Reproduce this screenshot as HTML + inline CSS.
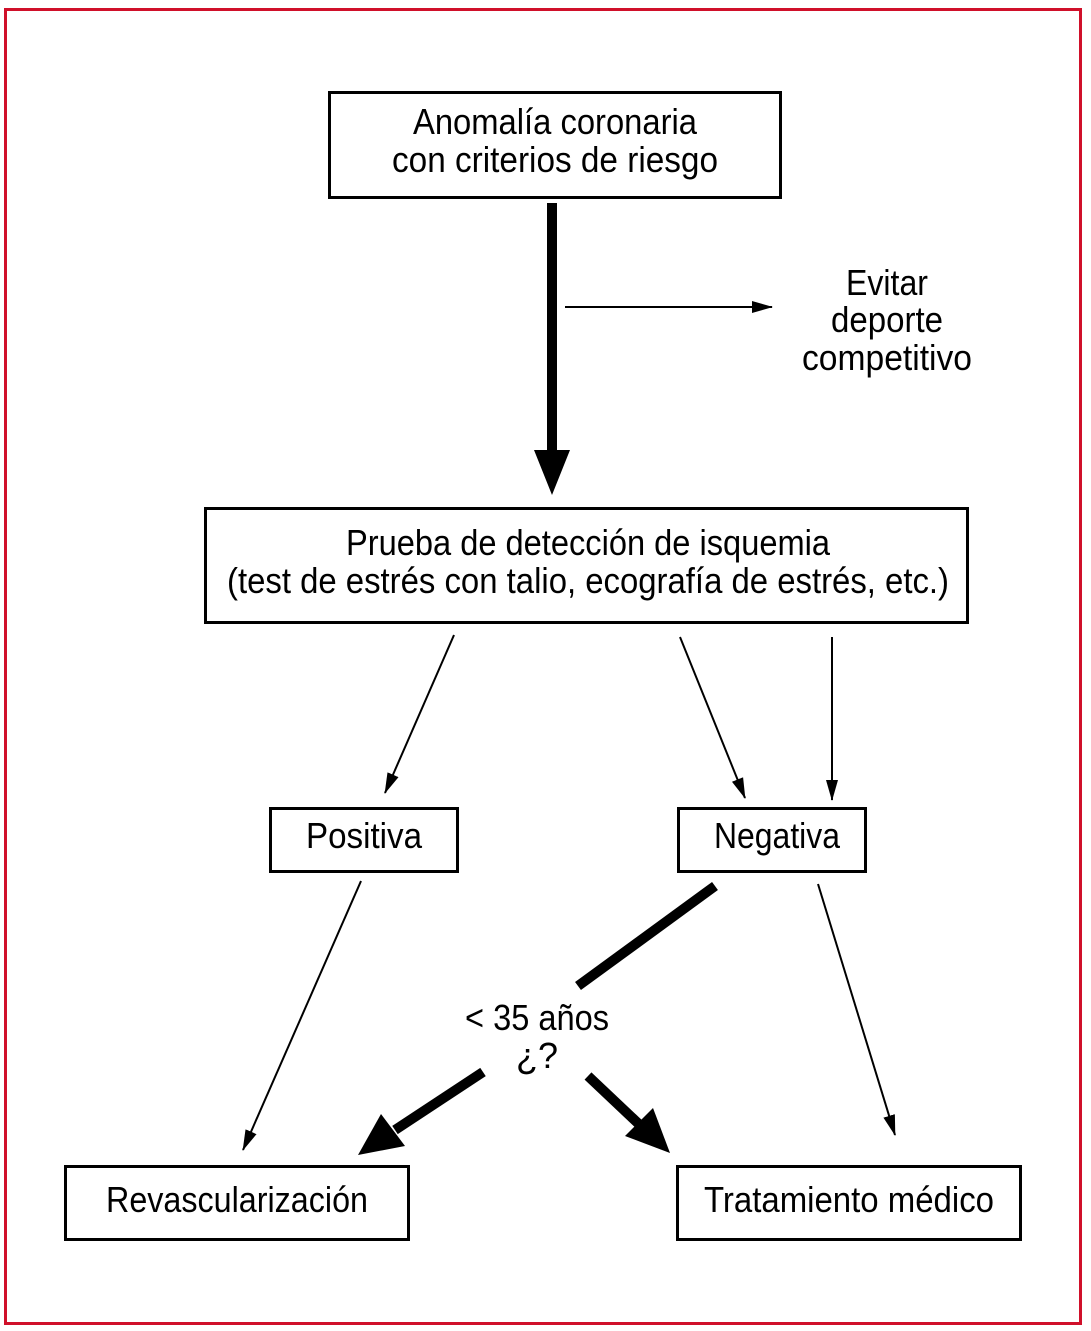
<!DOCTYPE html>
<html><head><meta charset="utf-8"><style>html,body{margin:0;padding:0;background:#fff}svg{display:block}</style></head>
<body>
<svg width="1091" height="1331" viewBox="0 0 1091 1331" xmlns="http://www.w3.org/2000/svg" font-family="'Liberation Sans Narrow','Liberation Sans',sans-serif" font-size="36" text-anchor="middle" fill="#000">
<defs>
<marker id="thin" markerWidth="22" markerHeight="14" refX="20" refY="7" orient="auto" markerUnits="userSpaceOnUse"><path d="M0,1 L21,7 L0,13 Z" fill="#000"/></marker>
</defs>
<rect x="5.5" y="9.5" width="1075" height="1314" fill="none" stroke="#d0102a" stroke-width="3"/>
<rect x="329.5" y="92.5" width="451" height="105" fill="none" stroke="#000" stroke-width="3"/>
<text x="555" y="134" textLength="284" lengthAdjust="spacingAndGlyphs">Anomalía coronaria</text>
<text x="555" y="172" textLength="326" lengthAdjust="spacingAndGlyphs">con criterios de riesgo</text>
<line x1="552" y1="203" x2="552" y2="455" stroke="#000" stroke-width="10"/>
<polygon points="534,450 570,450 552,495" fill="#000"/>
<line x1="565" y1="307" x2="772" y2="307" stroke="#000" stroke-width="2" marker-end="url(#thin)"/>
<text x="887" y="295" textLength="82" lengthAdjust="spacingAndGlyphs">Evitar</text>
<text x="887" y="332" textLength="112" lengthAdjust="spacingAndGlyphs">deporte</text>
<text x="887" y="370" textLength="170" lengthAdjust="spacingAndGlyphs">competitivo</text>
<rect x="205.5" y="508.5" width="762" height="114" fill="none" stroke="#000" stroke-width="3"/>
<text x="588" y="555" textLength="484" lengthAdjust="spacingAndGlyphs">Prueba de detección de isquemia</text>
<text x="588" y="593" textLength="722" lengthAdjust="spacingAndGlyphs">(test de estrés con talio, ecografía de estrés, etc.)</text>
<line x1="454" y1="635" x2="385" y2="793" stroke="#000" stroke-width="2" marker-end="url(#thin)"/>
<line x1="680" y1="637" x2="745" y2="798" stroke="#000" stroke-width="2" marker-end="url(#thin)"/>
<line x1="832" y1="637" x2="832" y2="800" stroke="#000" stroke-width="2" marker-end="url(#thin)"/>
<rect x="270.5" y="808.5" width="187" height="63" fill="none" stroke="#000" stroke-width="3"/>
<text x="364" y="848" textLength="116" lengthAdjust="spacingAndGlyphs">Positiva</text>
<rect x="678.5" y="808.5" width="187" height="63" fill="none" stroke="#000" stroke-width="3"/>
<text x="777" y="848" textLength="126" lengthAdjust="spacingAndGlyphs">Negativa</text>
<line x1="361" y1="881" x2="243" y2="1150" stroke="#000" stroke-width="2" marker-end="url(#thin)"/>
<line x1="818" y1="884" x2="895" y2="1135" stroke="#000" stroke-width="2" marker-end="url(#thin)"/>
<line x1="715" y1="886" x2="578" y2="986" stroke="#000" stroke-width="10"/>
<text x="537" y="1030" textLength="144" lengthAdjust="spacingAndGlyphs">&lt; 35 años</text>
<text x="537" y="1068">¿?</text>
<line x1="483" y1="1072" x2="395" y2="1130" stroke="#000" stroke-width="10"/>
<polygon points="358,1155 381,1114 405,1146" fill="#000"/>
<line x1="588" y1="1076" x2="642" y2="1127" stroke="#000" stroke-width="10"/>
<polygon points="670,1153 625,1136 653,1108" fill="#000"/>
<rect x="65.5" y="1166.5" width="343" height="73" fill="none" stroke="#000" stroke-width="3"/>
<text x="237" y="1212" textLength="262" lengthAdjust="spacingAndGlyphs">Revascularización</text>
<rect x="677.5" y="1166.5" width="343" height="73" fill="none" stroke="#000" stroke-width="3"/>
<text x="849" y="1212" textLength="290" lengthAdjust="spacingAndGlyphs">Tratamiento médico</text>
</svg>
</body></html>
